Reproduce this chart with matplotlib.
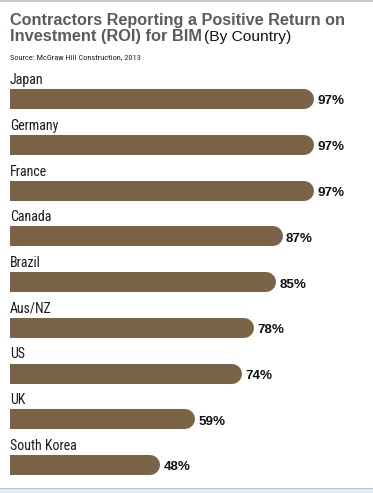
import matplotlib
matplotlib.use("Agg")
import matplotlib.pyplot as plt
from matplotlib.patches import Rectangle
from matplotlib import font_manager as fm

countries = ["Japan", "Germany", "France", "Canada", "Brazil", "Aus/NZ", "US", "UK", "South Korea"]
values = [97, 97, 97, 87, 85, 78, 74, 59, 48]
title_line1 = "Contractors Reporting a Positive Return on"
title_line2_bold = "Investment (ROI) for BIM"
title_line2_normal = "(By Country)"
source = "Source: McGraw Hill Construction, 2013"

W, H = 373, 493
DPI = 100
BAR_COLOR = "#7a6347"
TITLE_COLOR = "#575c63"


def wnum(w):
    if isinstance(w, int):
        return w
    return {"normal": 400, "regular": 400, "book": 400, "medium": 500,
            "semibold": 600, "demibold": 600, "bold": 700, "heavy": 800,
            "extra bold": 800, "black": 900}.get(str(w).lower(), 400)


def find_font(pred, default):
    for f in fm.fontManager.ttflist:
        try:
            if pred(f):
                return fm.FontProperties(fname=f.fname)
        except Exception:
            pass
    return default


# condensed font for category labels
cond = None
for nm in ["Liberation Sans Narrow", "Roboto Condensed", "DejaVu Sans"]:
    cond = find_font(lambda f, nm=nm: f.name == nm and f.style == "normal"
                     and wnum(f.weight) == 400 and "condensed" in str(f.stretch)
                     or (f.name == nm and nm != "DejaVu Sans" and f.style == "normal"
                         and wnum(f.weight) == 400), None)
    if cond is not None:
        break
if cond is None:
    cond = fm.FontProperties(family="Liberation Sans")
    label_size = 9
else:
    label_size = 10

heavy = fm.FontProperties(family="Liberation Sans", weight="bold")

fig = plt.figure(figsize=(W / DPI, H / DPI), dpi=DPI)
fig.patch.set_facecolor("white")


def fx(x):
    return x / W


def fy(y):
    return 1 - y / H


# frame decorations
fig.add_artist(Rectangle((0, fy(2)), 1, 2 / H, transform=fig.transFigure,
                         facecolor="#c8c8c8", edgecolor="none"))
fig.add_artist(Rectangle((0, 0), 1, fy(488), transform=fig.transFigure,
                         facecolor="#e4ecf8", edgecolor="none"))
fig.add_artist(Rectangle((0, fy(489)), 1, 1 / H, transform=fig.transFigure,
                         facecolor="#b9c6da", edgecolor="none"))

row = 45.75
top = 99 - row / 2
bottom = 99 + row * 8.5
x0_px, x100_px = 10, 323.4
ax = fig.add_axes([fx(x0_px), fy(bottom), (x100_px - x0_px) / W, (bottom - top) / H])
ax.set_xlim(0, 100)
ax.set_ylim(len(countries) - 0.5, -0.5)
ax.axis("off")

px_per_unit = (x100_px - x0_px) / 100
bar_h_px = 20
r_units = (bar_h_px / 2) / px_per_unit
lw_pt = bar_h_px * 72 / DPI

ypos = list(range(len(countries)))
ax.hlines(ypos, 0, [v - r_units for v in values], colors=BAR_COLOR,
          linewidth=lw_pt, capstyle="round")

for i, (c, v) in enumerate(zip(countries, values)):
    fp = cond.copy()
    fp.set_size(label_size)
    ax.text(0, i - 15 / row, c, ha="left", va="baseline",
            fontproperties=fp, color="#1a1a1a")
    ax.annotate(f"{v}%", xy=(v, i + 5.5 / row), xytext=(2.4, 0),
                textcoords="offset points", ha="left", va="baseline",
                fontsize=9.6, fontweight="bold", family="Liberation Sans",
                color="#111111")

renderer = fig.canvas.get_renderer()


def fit_text(s, x_left, x_right, baseline, fp, size, color):
    fp = fp.copy()
    fp.set_size(size)
    t = fig.text(fx(x_left), fy(baseline), s, ha="left", va="baseline",
                 fontproperties=fp, color=color)
    w = t.get_window_extent(renderer).width
    t.set_fontsize(size * (x_right - x_left) / w)
    return t


fit_text(title_line1, 10, 345, 25, heavy, 11, TITLE_COLOR)
fit_text(title_line2_bold, 10, 202, 41, heavy, 11, TITLE_COLOR)
fit_text(title_line2_normal, 204, 291, 41,
         fm.FontProperties(family="Liberation Sans"), 11, "#111111")
fit_text(source, 10, 143, 59, cond, 5, "#222222")

fig.savefig("out.png", dpi=DPI)
